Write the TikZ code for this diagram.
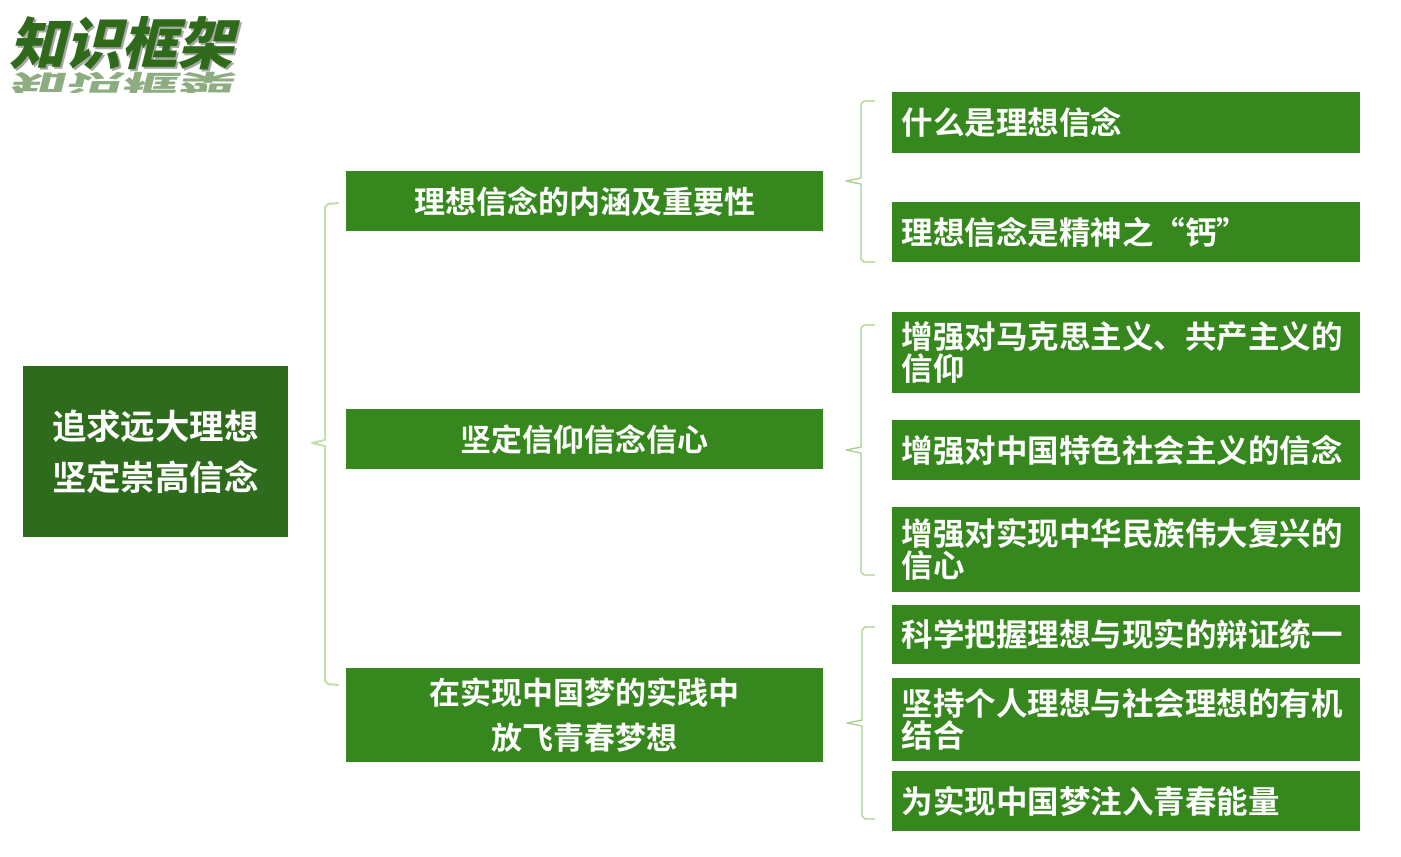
\documentclass[tikz,border=0pt]{standalone}
\usepackage{fontspec}
\newfontfamily\cjkb{Noto Sans CJK SC Bold}
\newfontfamily\cjkh{Noto Sans CJK SC Black}
\definecolor{rootgreen}{HTML}{2E6B1C}
\definecolor{boxgreen}{HTML}{36871E}
\definecolor{bracegreen}{HTML}{C2DFAE}
\definecolor{bracesmall}{HTML}{A9D18E}
\definecolor{titlegreen}{HTML}{2F6A1A}
\begin{document}
\begin{tikzpicture}[x=1pt,y=-1pt,
  rootbox/.style={fill=rootgreen,draw=none,text=white,font=\cjkb\fontsize{34.5}{51}\selectfont,align=center,inner sep=0pt},
  midbox/.style={fill=boxgreen,draw=none,text=white,font=\cjkb\fontsize{31}{45}\selectfont,align=center,minimum width=477pt,inner sep=0pt},
  leafbox/.style={fill=boxgreen,draw=none,text=white,font=\cjkb\fontsize{31.5}{32}\selectfont,align=left,minimum width=467pt,text width=448pt,inner xsep=10pt,inner ysep=0pt},
  titletext/.style={font=\cjkh\fontsize{56}{56}\selectfont,xslant=0.25,anchor=center},
  bracebig/.style={draw=bracegreen,line width=2pt,line join=round},
  bracesm/.style={draw=bracesmall,line width=1.3pt,line join=round}
]
\useasboundingbox (0,0) rectangle (1401,857);
% title with reflection and shadow
\begin{scope}
\clip (0,68) rectangle (300,92);
\node[titletext,text=titlegreen,opacity=0.55,yscale=-0.42] (titlerefl) at (124,83) {知识框架};
\end{scope}
\node[titletext,text=black!35] (titleshadow) at (129,45) {知识框架};
\node[titletext,text=titlegreen] (title) at (127,43) {知识框架};
% root
\node[rootbox,minimum width=265pt,minimum height=171pt] (root) at (155.5,451.5) {追求远大理想\\坚定崇高信念};
% middle boxes
\node[midbox,minimum height=60pt] (m1) at (584.5,201) {理想信念的内涵及重要性};
\node[midbox,minimum height=60pt] (m2) at (584.5,439) {坚定信仰信念信心};
\node[midbox,minimum height=94pt] (m3) at (584.5,715) {在实现中国梦的实践中\\放飞青春梦想};
% leaves
\node[leafbox,minimum height=61pt] (l1) at (1125.5,122.5) {什么是理想信念};
\node[leafbox,minimum height=60pt] (l2) at (1125.5,232) {理想信念是精神之“钙”};
\node[leafbox,minimum height=81pt] (l3) at (1125.5,352.5) {增强对马克思主义、共产主义的\\信仰};
\node[leafbox,minimum height=60pt] (l4) at (1125.5,450) {增强对中国特色社会主义的信念};
\node[leafbox,minimum height=85pt] (l5) at (1125.5,549.5) {增强对实现中华民族伟大复兴的\\信心};
\node[leafbox,minimum height=59pt] (l6) at (1125.5,634.5) {科学把握理想与现实的辩证统一};
\node[leafbox,minimum height=83pt] (l7) at (1125.5,719.5) {坚持个人理想与社会理想的有机\\结合};
\node[leafbox,minimum height=60pt] (l8) at (1125.5,801) {为实现中国梦注入青春能量};
% braces
\coordinate (b0tip) at (312,443);
\draw[bracebig] (339,203) -- (328,204) -- (325,207) -- (325,440) -- (b0tip) -- (325,446) -- (325,681) -- (328,684) -- (339,685);
\coordinate (b1tip) at (846,181);
\draw[bracesm] (875,101) -- (864,101) -- (861,104) -- (861,178) -- (b1tip) -- (861,184) -- (861,259) -- (864,262) -- (875,262);
\coordinate (b2tip) at (846,450);
\draw[bracesm] (875,325) -- (864,325) -- (861,328) -- (861,447) -- (b2tip) -- (861,453) -- (861,572) -- (864,575) -- (875,575);
\coordinate (b3tip) at (847,723);
\draw[bracesm] (875,627) -- (865,627) -- (862,630) -- (862,720) -- (b3tip) -- (862,726) -- (862,816) -- (865,819) -- (875,819);
\end{tikzpicture}
\end{document}
